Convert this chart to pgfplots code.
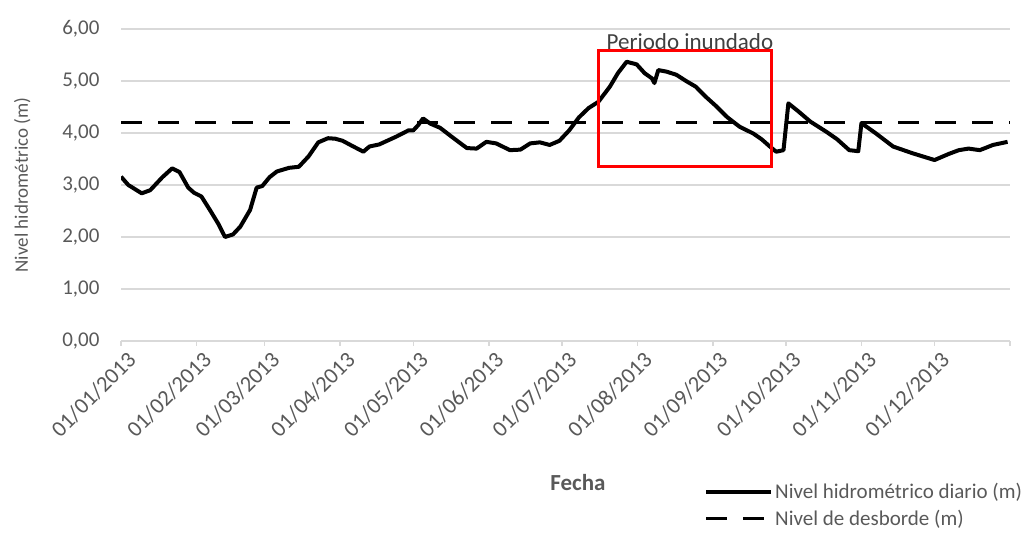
\documentclass[border=0pt]{standalone}
\usepackage{fontspec}
\setmainfont{Carlito}
\usepackage{pgfplots}
\pgfplotsset{compat=1.18}
\definecolor{txt}{RGB}{89,89,89}
\definecolor{gridc}{RGB}{217,217,217}
\begin{document}
\begin{tikzpicture}[x=1pt,y=1pt]
\begin{axis}[
 at={(121pt,196pt)}, anchor=south west,
 scale only axis, width=889pt, height=312pt,
 xmin=0, xmax=365, ymin=0, ymax=6,
 axis line style={draw=none},
 ymajorgrids, grid style={gridc, line width=1.5pt},
 ytick={0,1,2,3,4,5,6},
 yticklabels={{0,00},{1,00},{2,00},{3,00},{4,00},{5,00},{6,00}},
 ytick style={draw=none},
 xtick={0,31,59,90,120,151,181,212,243,273,304,334,365},
 xticklabels={01/01/2013,01/02/2013,01/03/2013,01/04/2013,01/05/2013,01/06/2013,01/07/2013,01/08/2013,01/09/2013,01/10/2013,01/11/2013,01/12/2013,{}},
 xtick pos=bottom, ytick pos=left,
 tick align=outside, major tick length=5pt,
 xtick style={gridc, line width=1.5pt},
 yticklabel style={font=\fontsize{21}{25}\selectfont, text=txt, xshift=-13pt},
 xticklabel style={font=\fontsize{22.5}{26}\selectfont, text=txt, rotate=45, anchor=east, xshift=4pt, yshift=-15pt},
 ylabel={Nivel hidrométrico (m)},
 ylabel style={font=\fontsize{19}{22}\selectfont, text=txt, at={(axis description cs:-0.111,0.5)}, anchor=center},
 xlabel={\textbf{Fecha}},
 xlabel style={font=\fontsize{23}{27}\selectfont, text=txt, at={(axis description cs:0.514,-0.452)}, anchor=center},
 legend style={at={(axis description cs:0.656,-0.45)}, anchor=north west, draw=none, fill=none,
   font=\fontsize{21}{25}\selectfont, text=txt, row sep=6pt, inner sep=0pt, outer sep=0pt,
   nodes={inner sep=2pt}},
 legend cell align=left,
 legend image code/.code={\draw[#1] (0pt,0pt) -- (65pt,0pt);},
]
\addplot[black, line width=4pt, line join=round] coordinates {
(0,3.16) (3,3.00) (8.5,2.84) (12,2.90) (17,3.15) (21,3.32) (24,3.25) (27.6,2.95)
(30,2.85) (33,2.78) (36.5,2.52) (40,2.25) (42.7,2.00) (46,2.05) (49,2.20) (53,2.52)
(55.7,2.95) (58,2.98) (61,3.15) (64,3.26) (69,3.33) (73,3.35) (77,3.55) (81,3.82)
(85,3.90) (88,3.89) (91,3.85) (95,3.75) (99.5,3.64) (102,3.74) (106,3.78) (113,3.93)
(118,4.05) (120,4.05) (122,4.15) (124,4.28) (127,4.18) (131,4.10) (136,3.92) (142,3.71)
(146,3.70) (150,3.83) (154,3.80) (159.7,3.67) (164,3.68) (168,3.80) (172,3.82) (176,3.77)
(180,3.85) (184,4.05) (188,4.30) (192,4.48) (196,4.60) (200.7,4.89) (204,5.15) (207.6,5.37)
(211.7,5.32) (215,5.15) (218,5.05) (219,4.96) (220.6,5.21) (224,5.18) (228,5.12) (232,5.00)
(236,4.89) (240,4.70) (244.5,4.51) (249,4.30) (254,4.12) (259.6,3.99) (263,3.88) (266.4,3.74)
(269,3.64) (272,3.67) (274,4.57) (278,4.42) (283,4.22) (289.7,4.02) (294,3.88) (299,3.67)
(302.7,3.65) (304,4.19) (310,3.99) (317,3.74) (325,3.61) (334,3.48) (340,3.60) (344,3.67)
(348,3.70) (352.6,3.67) (358,3.77) (364,3.83)
};
\addlegendentry{Nivel hidrométrico diario (m)}
\addplot[black, line width=3.5pt, dash pattern=on 21pt off 16pt] coordinates {(0,4.2) (365,4.2)};
\addlegendentry{Nivel de desborde (m)}
\draw[red, line width=3pt] (axis cs:196.2,3.35) rectangle (axis cs:267.2,5.58);
\node[font=\fontsize{23}{27}\selectfont, text=black!75] at (axis cs:233.6,5.75) {Periodo inundado};
\end{axis}
\pgfresetboundingbox
\path (0,0) rectangle (1033,537);
\end{tikzpicture}
\end{document}
